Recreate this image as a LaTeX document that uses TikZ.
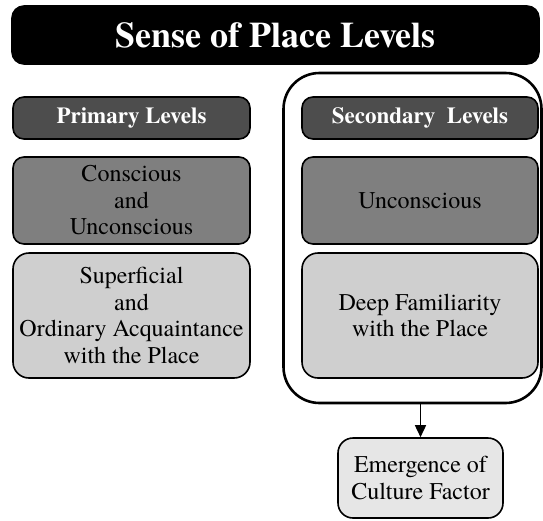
\documentclass[tikz,border=0pt]{standalone}
\usepackage{fontspec}
\setmainfont{texgyretermes}[Extension=.otf, UprightFont=*-regular, BoldFont=*-bold,
  ItalicFont=*-italic, BoldItalicFont=*-bolditalic]
\usetikzlibrary{arrows.meta}
\definecolor{hdrgray}{HTML}{4D4D4D}
\definecolor{midgray}{HTML}{7F7F7F}
\definecolor{lightgray}{HTML}{CFCFCF}
\definecolor{palegray}{HTML}{E6E6E6}

\begin{document}
\begin{tikzpicture}[x=1pt, y=-1pt,
  box/.style={draw, line width=1.6pt, rounded corners=11pt, inner sep=0pt, align=center,
    font=\fontsize{24}{26.5}\selectfont},
  hdr/.style={box, fill=hdrgray, text=white, font=\fontsize{23}{26}\selectfont\bfseries},
  midbox/.style={box, fill=midgray},
  lightbox/.style={box, fill=lightgray, rounded corners=16pt}]

\useasboundingbox (0,0) rectangle (543,520);

\def\lx{131.5}
\def\rx{420}
\def\bw{237}

% title
\node[box, fill=black, text=white, rounded corners=12pt, minimum width=527pt, minimum height=58pt,
  font=\fontsize{36}{40}\selectfont\bfseries] (title) at (275.5,35) {Sense of Place Levels};

% secondary group frame
\node[draw, line width=2.6pt, rounded corners=36pt, minimum width=258pt, minimum height=330pt,
  inner sep=0pt] (group) at (412.5,238) {};

% left column
\node[hdr, minimum width=\bw pt, minimum height=42pt] (prim) at (\lx,118) {Primary Levels};
\node[midbox, minimum width=\bw pt, minimum height=87pt] (consc) at (\lx,200.5) {Conscious\\and\\Unconscious};
\node[lightbox, minimum width=\bw pt, minimum height=125pt] (superf) at (\lx,315.5)
  {Superficial\\and\\Ordinary Acquaintance\\with the Place};

% right column
\node[hdr, minimum width=236pt, minimum height=42pt] (sec) at (\rx,118) {Secondary\ \ Levels};
\node[midbox, minimum width=236pt, minimum height=87pt] (uncon) at (\rx,200.5) {Unconscious};
\node[lightbox, minimum width=236pt, minimum height=125pt] (deep) at (\rx,315.5)
  {Deep Familiarity\\with the Place};

% outcome
\node[box, fill=palegray, rounded corners=15pt, minimum width=165pt, minimum height=80pt] (emerg)
  at (420.5,478) {Emergence of\\Culture Factor};

\draw[-{Triangle[length=12pt,width=11pt]}, line width=1.6pt] (group.south -| emerg.north) -- (emerg.north);

\end{tikzpicture}
\end{document}
